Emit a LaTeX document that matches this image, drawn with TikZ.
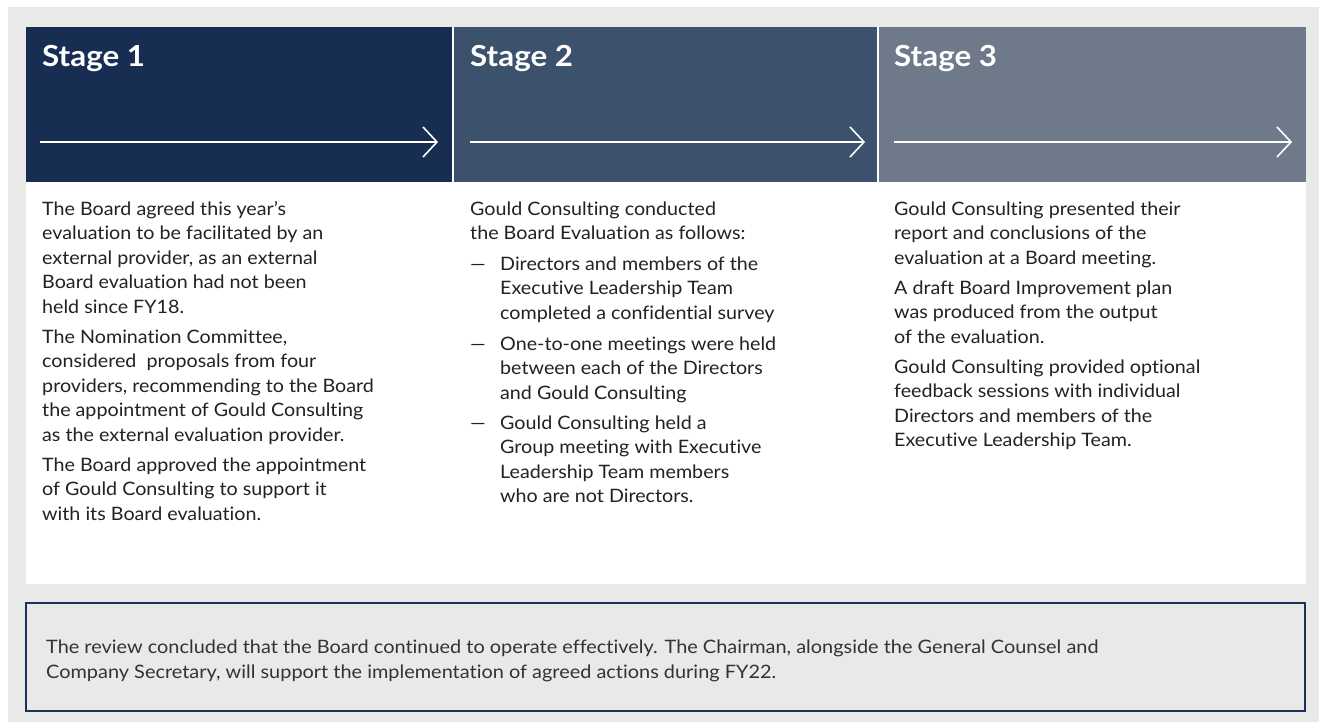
\documentclass[tikz,border=0pt]{standalone}
\usepackage{fontspec}
\defaultfontfeatures{Ligatures={NoCommon,NoContextual,NoRare},Contextuals=NoAlternate}
\setmainfont{Lato}[FakeStretch=1.065]
\newfontfamily\headfont{Lato}[FakeStretch=1.08]
\newfontfamily\conclfont{Lato}[FakeStretch=1.076]
\definecolor{bggray}{HTML}{E9E9E8}
\definecolor{stA}{HTML}{172E52}
\definecolor{stB}{HTML}{3C516B}
\definecolor{stC}{HTML}{6E7A8A}
\definecolor{txt}{HTML}{222222}
\definecolor{navy}{HTML}{1B3358}
\newcommand\textlines[1]{\begin{tabular}[t]{@{}l@{}}#1\end{tabular}}
\tikzset{
  head/.style={anchor=base west, text=white, font=\headfont\fontsize{29}{32}\selectfont\bfseries, inner sep=0pt},
  body/.style={anchor=base west, text=txt, font=\fontsize{18.5}{24.5}\selectfont, inner sep=0pt},
  stagearrow/.style={draw=white, line width=1.6pt},
  chev/.style={draw=white, line width=1.6pt, line join=miter},
}
\begin{document}
\begin{tikzpicture}[x=1pt,y=-1pt]
\useasboundingbox (0,0) rectangle (1319,722);
\fill[bggray] (8,7) rectangle (1319,722);
% white body
\fill[white] (26,182) rectangle (1306,584);
% headers
\fill[stA] (26,27) rectangle (452,182);
\fill[stB] (454,27) rectangle (877,182);
\fill[stC] (879,27) rectangle (1306,182);
\fill[white] (452,27) rectangle (454,182);
\fill[white] (877,27) rectangle (879,182);
% headings
\node[head] (t1) at (42,67) {Stage 1};
\node[head] (t2) at (470,67) {Stage 2};
\node[head] (t3) at (894,67) {Stage 3};
% arrows
\coordinate (a1s) at (40,142); \coordinate (a1e) at (437,142);
\coordinate (a2s) at (470,142); \coordinate (a2e) at (864,142);
\coordinate (a3s) at (894,142); \coordinate (a3e) at (1291,142);
\foreach \s/\e in {a1s/a1e,a2s/a2e,a3s/a3e}{
  \draw[stagearrow] (\s) -- (\e);
  \draw[chev] ([shift={(-14,-15)}]\e) -- (\e) -- ([shift={(-14,15)}]\e);
}
% stage 1 body
\node[body] (p1a) at (42,215) {\textlines{The Board agreed this year’s\\evaluation to be facilitated by an\\external provider, as an external\\Board evaluation had not been\\held since FY18.}};
\node[body] (p1b) at (42,343) {\textlines{The Nomination Committee,\\considered\ \ proposals from four\\providers, recommending to the Board\\the appointment of Gould Consulting\\as the external evaluation provider.}};
\node[body] (p1c) at (42,471) {\textlines{The Board approved the appointment\\of Gould Consulting to support it\\with its Board evaluation.}};
% stage 2 body
\node[body] (p2a) at (470,215) {\textlines{Gould Consulting conducted\\the Board Evaluation as follows:}};
\node[body] (d1) at (470,270) {—};
\node[body] (p2b) at (500,270) {\textlines{Directors and members of the\\Executive Leadership Team\\completed a confidential survey}};
\node[body] (d2) at (470,350) {—};
\node[body] (p2c) at (500,350) {\textlines{One-to-one meetings were held\\between each of the Directors\\and Gould Consulting}};
\node[body] (d3) at (470,429) {—};
\node[body] (p2d) at (500,429) {\textlines{Gould Consulting held a\\Group meeting with Executive\\Leadership Team members\\who are not Directors.}};
% stage 3 body
\node[body] (p3a) at (894,215) {\textlines{Gould Consulting presented their\\report and conclusions of the\\evaluation at a Board meeting.}};
\node[body] (p3b) at (894,294) {\textlines{A draft Board Improvement plan\\was produced from the output\\of the evaluation.}};
\node[body] (p3c) at (894,373) {\textlines{Gould Consulting provided optional\\feedback sessions with individual\\Directors and members of the\\Executive Leadership Team.}};
% bottom box
\draw[navy, line width=2pt] (26,603) rectangle (1305,711);
\node[body, text=black!80, font=\conclfont\fontsize{18.5}{25}\selectfont] (concl) at (46,653) {\textlines{The review concluded that the Board continued to operate effectively. The Chairman, alongside the General Counsel and\\Company Secretary, will support the implementation of agreed actions during FY22.}};
\end{tikzpicture}
\end{document}
